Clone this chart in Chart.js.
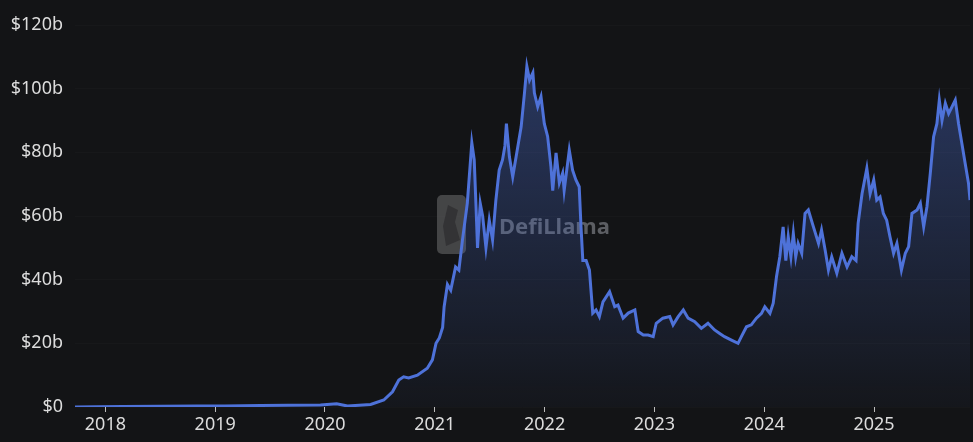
<!DOCTYPE html>
<html lang="en">
<head>
<meta charset="utf-8">
<title>DefiLlama TVL</title>
<script src="https://cdn.jsdelivr.net/npm/chart.js@4.4.1/dist/chart.umd.min.js"></script>
<style>
    html, body { margin: 0; padding: 0; background: #131416; }
    #wrap { width: 973px; height: 442px; position: relative; }
</style>
</head>
<body>
<div id="wrap"><canvas id="myChart"></canvas></div>
<script>
// sample dates
let dates = [
    '2017-09-22', '2017-12-01', '2018-03-01', '2018-07-01', '2018-11-01', '2019-02-01', '2019-06-01', '2019-09-01',
    '2019-12-17', '2020-02-09', '2020-03-16', '2020-06-01', '2020-07-15', '2020-08-13', '2020-09-03', '2020-09-19',
    '2020-10-06', '2020-11-04', '2020-12-07', '2020-12-24', '2021-01-05', '2021-01-16', '2021-01-27', '2021-02-01',
    '2021-02-12', '2021-02-23', '2021-03-11', '2021-03-22', '2021-04-03', '2021-04-19', '2021-05-04', '2021-05-12',
    '2021-05-18', '2021-05-23', '2021-06-01', '2021-06-09', '2021-06-20', '2021-07-01', '2021-07-12', '2021-07-23',
    '2021-08-03', '2021-08-14', '2021-08-22', '2021-08-27', '2021-09-06', '2021-09-17', '2021-10-04', '2021-10-15',
    '2021-10-26', '2021-11-03', '2021-11-12', '2021-11-23', '2021-11-28', '2021-12-09', '2021-12-20', '2021-12-31',
    '2022-01-11', '2022-01-22', '2022-01-28', '2022-02-08', '2022-02-19', '2022-03-02', '2022-03-07', '2022-03-24',
    '2022-04-04', '2022-04-15', '2022-04-26', '2022-05-02', '2022-05-08', '2022-05-19', '2022-05-30', '2022-06-10',
    '2022-06-21', '2022-07-02', '2022-07-14', '2022-08-05', '2022-08-22', '2022-09-02', '2022-09-19', '2022-10-06',
    '2022-10-28', '2022-11-08', '2022-11-25', '2022-12-11', '2022-12-28', '2023-01-07', '2023-01-29', '2023-02-21',
    '2023-03-04', '2023-03-21', '2023-04-07', '2023-04-23', '2023-05-15', '2023-06-06', '2023-06-28', '2023-07-20',
    '2023-08-06', '2023-08-22', '2023-09-14', '2023-10-06', '2023-10-17', '2023-11-03', '2023-11-19', '2023-12-06',
    '2023-12-23', '2024-01-03', '2024-01-20', '2024-01-31', '2024-02-11', '2024-02-22', '2024-03-04', '2024-03-13',
    '2024-03-21', '2024-03-30', '2024-04-07', '2024-04-15', '2024-04-23', '2024-05-05', '2024-05-16', '2024-05-27',
    '2024-06-13', '2024-06-30', '2024-07-10', '2024-07-22', '2024-08-02', '2024-08-13', '2024-08-30', '2024-09-16',
    '2024-10-03', '2024-10-19', '2024-11-02', '2024-11-09', '2024-11-22', '2024-12-08', '2024-12-19', '2024-12-31',
    '2025-01-10', '2025-01-21', '2025-02-01', '2025-02-12', '2025-02-23', '2025-03-07', '2025-03-18', '2025-04-02',
    '2025-04-15', '2025-04-26', '2025-05-07', '2025-05-24', '2025-06-04', '2025-06-15', '2025-06-26', '2025-07-07',
    '2025-07-18', '2025-07-29', '2025-08-06', '2025-08-15', '2025-08-26', '2025-09-06', '2025-09-17', '2025-09-28',
    '2025-10-09', '2025-10-20', '2025-10-31', '2025-11-11', '2025-11-16'
];

// total value locked, billions of USD
let tvl = [
    0.02, 0.05, 0.15, 0.25, 0.3, 0.3, 0.5, 0.55,
    0.6, 1.0, 0.3, 0.8, 2.2, 4.8, 8.5, 9.5,
    9.1, 10.0, 12.2, 14.8, 20, 21.7, 25, 31.5,
    38.5, 36.7, 44, 43, 52.5, 64, 83, 77.6,
    63, 50, 64, 60, 50, 58.7, 52.5, 65,
    74.4, 77.6, 82, 89, 78.6, 72.3, 81.8, 88,
    98.6, 107, 102.7, 105, 98.6, 94.3, 97.5, 89,
    85, 75.5, 68, 79.8, 70.4, 73.5, 68, 80.7,
    74.4, 71.3, 69.2, 56.6, 46, 46, 43, 29.5,
    30.5, 28.4, 33, 36.2, 31.5, 32, 27.9, 29.5,
    30.5, 23.7, 22.6, 22.6, 22.1, 26.3, 27.9, 28.4,
    25.8, 28.4, 30.5, 27.9, 26.8, 24.7, 26.3, 24.2,
    23.1, 22.1, 21, 20, 22.1, 25.2, 25.8, 27.9,
    29.4, 31.5, 29.4, 32.6, 41, 47.2, 56.6, 46,
    53.5, 47.2, 54.5, 47.2, 51.4, 48.3, 60.8, 61.9,
    56.6, 51.4, 55.6, 49.3, 43, 47.2, 42, 48.3,
    44, 47.2, 46, 57.7, 67, 75, 67, 71.3,
    65, 66, 60.8, 58.7, 53.5, 48.3, 51.4, 43,
    48.3, 50.4, 60.8, 61.9, 64, 56.6, 63, 73.4,
    84.9, 89, 96.4, 90, 95.4, 92.2, 94.3, 96.4,
    89, 82.8, 76.5, 70.3, 65
];

let tickYears = [2018, 2019, 2020, 2021, 2022, 2023, 2024, 2025];

// date string -> fractional year for the linear x axis
function toYear(s) {
    let d = Date.parse(s + 'T00:00:00Z');
    let y = Number(s.slice(0, 4));
    let start = Date.UTC(y, 0, 1);
    let end = Date.UTC(y + 1, 0, 1);
    return y + (d - start) / (end - start);
}

let points = dates.map((d, i) => ({ x: toYear(d), y: tvl[i] }));

const lineColor = '#4e72d9';
const font = { family: "'Noto Sans', 'Open Sans', sans-serif", size: 18 };

// faded llama mark in the middle
const watermark = {
    id: 'watermark',
    beforeDatasetsDraw(chart) {
        let ctx = chart.ctx;
        ctx.save();
        ctx.fillStyle = 'rgba(110,110,112,0.55)';
        ctx.beginPath();
        ctx.roundRect(437, 195, 29, 59, 5);
        ctx.fill();
        ctx.fillStyle = 'rgba(40,40,42,0.6)';
        ctx.beginPath();
        ctx.moveTo(448, 205);
        ctx.lineTo(458, 210);
        ctx.lineTo(455, 222);
        ctx.lineTo(460, 240);
        ctx.lineTo(446, 246);
        ctx.lineTo(443, 226);
        ctx.closePath();
        ctx.fill();
        ctx.fillStyle = '#5c5e63';
        ctx.font = "bold 22px 'Noto Sans', sans-serif";
        ctx.textBaseline = 'middle';
        ctx.fillText('DefiLlama', 499, 228);
        ctx.restore();
    }
};

const ctx = document.getElementById('myChart').getContext('2d');
const myChart = new Chart(ctx, {
    type: 'line',
    data: {
        datasets: [{
            label: 'TVL',
            data: points,
            borderColor: lineColor,
            borderWidth: 3,
            pointRadius: 0,
            tension: 0,
            fill: 'origin',
            backgroundColor: (c) => {
                let area = c.chart.chartArea;
                if (!area) return 'rgba(78,114,217,0.2)';
                let g = c.chart.ctx.createLinearGradient(0, area.top, 0, area.bottom);
                g.addColorStop(0, 'rgba(78,114,217,0.42)');
                g.addColorStop(1, 'rgba(78,114,217,0.03)');
                return g;
            }
        }]
    },
    options: {
        responsive: true,
        maintainAspectRatio: false,
        animation: false,
        layout: { padding: { top: 25, right: 3, left: 0, bottom: 0 } },
        plugins: {
            legend: { display: false },
            tooltip: { enabled: false }
        },
        scales: {
            x: {
                type: 'linear',
                min: points[0].x,
                max: points[points.length - 1].x,
                afterBuildTicks: (s) => { s.ticks = tickYears.map(v => ({ value: v })); },
                afterFit: (s) => { s.height = 35; },
                border: { display: false },
                grid: { drawOnChartArea: false, drawTicks: true, tickLength: 5, color: '#bdbdbd' },
                ticks: {
                    color: '#dcdcdc',
                    font: font,
                    padding: 2,
                    maxRotation: 0,
                    callback: (v) => String(v)
                }
            },
            y: {
                min: 0,
                max: 120,
                afterFit: (s) => { s.width = 75; },
                border: { display: false },
                grid: { color: 'rgba(255,255,255,0.02)', drawTicks: false },
                ticks: {
                    stepSize: 20,
                    color: '#dcdcdc',
                    font: font,
                    padding: 12,
                    callback: (v) => v === 0 ? '$0' : '$' + v + 'b'
                }
            }
        }
    },
    plugins: [watermark]
});
</script>
</body>
</html>
